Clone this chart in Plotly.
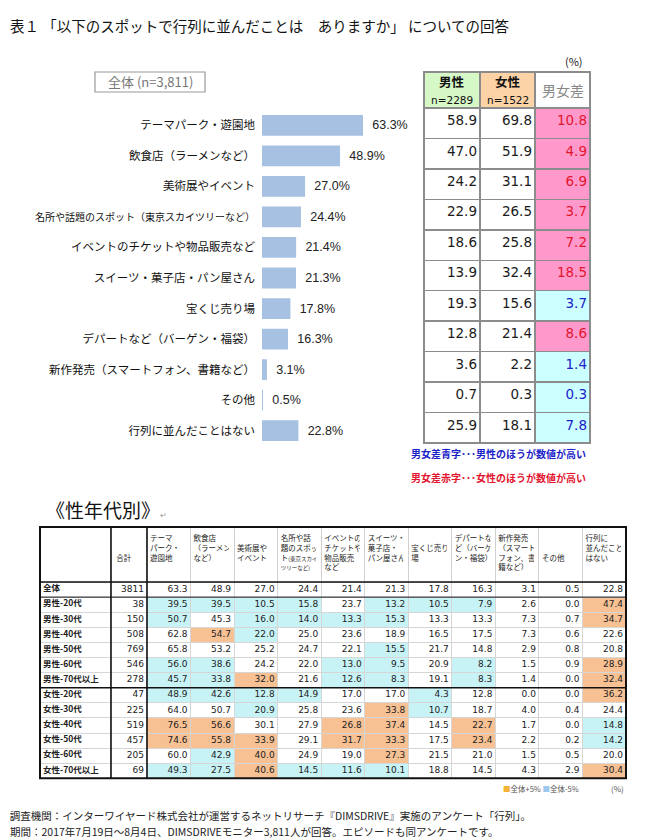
import plotly.graph_objects as go

W, H = 668, 840
def px(x):
    return x / W
def py(y):
    return 1 - y / H

JP = "Noto Sans CJK JP"
NUMF = "DejaVu Sans, Noto Sans CJK JP"
CLEAR = "rgba(0,0,0,0)"
NB = "\u00a0"

# ---------------- data: overall chart ----------------
categories = ["テーマパーク・遊園地", "飲食店（ラーメンなど）", "美術展やイベント",
              "名所や話題のスポット（東京スカイツリーなど）", "イベントのチケットや物品販売など",
              "スイーツ・菓子店・パン屋さん", "宝くじ売り場", "デパートなど（バーゲン・福袋）",
              "新作発売（スマートフォン、書籍など）", "その他", "行列に並んだことはない"]
total_pct = [63.3, 48.9, 27.0, 24.4, 21.4, 21.3, 17.8, 16.3, 3.1, 0.5, 22.8]
male_pct = [58.9, 47.0, 24.2, 22.9, 18.6, 13.9, 19.3, 12.8, 3.6, 0.7, 25.9]
female_pct = [69.8, 51.9, 31.1, 26.5, 25.8, 32.4, 15.6, 21.4, 2.2, 0.3, 18.1]
gender_gap = [10.8, 4.9, 6.9, 3.7, 7.2, 18.5, 3.7, 8.6, 1.4, 0.3, 7.8]
gender_headers = ["男性", "女性", "男女差"]
gender_n = ["n=2289", "n=1522", ""]

# ---------------- data: by gender/age table ----------------
age_groups = ["全体", "男性-20代", "男性-30代", "男性-40代", "男性-50代", "男性-60代", "男性-70代以上",
              "女性-20代", "女性-30代", "女性-40代", "女性-50代", "女性-60代", "女性-70代以上"]
age_n = [3811, 38, 150, 508, 769, 546, 278, 47, 225, 519, 457, 205, 69]
theme_park = [63.3, 39.5, 50.7, 62.8, 65.8, 56.0, 45.7, 48.9, 64.0, 76.5, 74.6, 60.0, 49.3]
restaurant = [48.9, 39.5, 45.3, 54.7, 53.2, 38.6, 33.8, 42.6, 50.7, 56.6, 55.8, 42.9, 27.5]
art_event = [27.0, 10.5, 16.0, 22.0, 25.2, 24.2, 32.0, 12.8, 20.9, 30.1, 33.9, 40.0, 40.6]
famous_spot = [24.4, 15.8, 14.0, 25.0, 24.7, 22.0, 21.6, 14.9, 25.8, 27.9, 29.1, 24.9, 14.5]
event_ticket = [21.4, 23.7, 13.3, 23.6, 22.1, 13.0, 12.6, 17.0, 23.6, 26.8, 31.7, 19.0, 11.6]
sweets = [21.3, 13.2, 15.3, 18.9, 15.5, 9.5, 8.3, 17.0, 33.8, 37.4, 33.3, 27.3, 10.1]
lottery = [17.8, 10.5, 13.3, 16.5, 21.7, 20.9, 19.1, 4.3, 10.7, 14.5, 17.5, 21.5, 18.8]
dept_store = [16.3, 7.9, 13.3, 17.5, 14.8, 8.2, 8.3, 12.8, 18.7, 22.7, 23.4, 21.0, 14.5]
new_release = [3.1, 2.6, 7.3, 7.3, 2.9, 1.5, 1.4, 0.0, 4.0, 1.7, 2.2, 1.5, 4.3]
other = [0.5, 0.0, 0.7, 0.6, 0.8, 0.9, 0.0, 0.0, 0.4, 0.0, 0.2, 0.5, 2.9]
never_queued = [22.8, 47.4, 34.7, 22.6, 20.8, 28.9, 32.4, 36.2, 24.4, 14.8, 14.2, 20.0, 30.4]
age_table_headers = [
    "", NB + "<br>" + NB + "<br>合計", "テーマ<br>パーク・<br>遊園地", "飲食店<br>（ラーメン<br>など）",
    NB + "<br>美術展や<br>イベント",
    "名所や話<br>題のスポッ<br>ト<span style='font-size:5.5px'>(東京スカイ</span><br><span style='font-size:5.5px'>ツリーなど)</span>",
    "イベントの<br>チケットや<br>物品販売<br>など", "スイーツ・<br>菓子店・<br>パン屋さん",
    NB + "<br>宝くじ売り<br>場", "デパートな<br>ど（バーゲ<br>ン・福袋）",
    "新作発売<br>（スマート<br>フォン、書<br>籍など）", NB + "<br>" + NB + "<br>その他",
    "行列に<br>並んだこと<br>はない"]

# ---------------- colours ----------------
BAR = "#a7c1e2"
GREEN = "#d6f7c6"
PEACH = "#fbd3a6"
PINK = "#ff99cc"
CYAN_GAP = "#ccffff"
RED_TXT = "#e3162f"
BLUE_TXT = "#1a22c8"
HI = "#f7c194"
LO = "#c8f3f6"

fig = go.Figure()

# ---------------- bar chart ----------------
ticktext = [("<span style='font-size:10px'>%s</span>" % c) if len(c) > 18 else c for c in categories]
fig.add_trace(go.Bar(
    x=total_pct, y=categories, orientation="h",
    marker=dict(color=BAR, line=dict(width=0)), width=0.68,
    text=["\u2002%.1f%%" % v for v in total_pct], textposition="outside",
    textfont=dict(family="Liberation Sans, Arial", size=12.5, color="#222"),
    cliponaxis=False, hoverinfo="skip", showlegend=False,
    xaxis="x", yaxis="y"))

# ---------------- gender table (background + shifted text layer) ----------------
gap_fill = [PINK if f > m else CYAN_GAP for m, f in zip(male_pct, female_pct)]
gap_color = [RED_TXT if f > m else BLUE_TXT for m, f in zip(male_pct, female_pct)]
GX0, GX1, GY0, GY1 = 424, 590, 72, 446
col_w = [56, 55, 55]
fig.add_trace(go.Table(
    domain=dict(x=[px(GX0), px(GX1)], y=[py(GY1), py(GY0)]),
    columnwidth=col_w,
    header=dict(values=["", "", ""], height=36,
                fill=dict(color=[GREEN, PEACH, "white"]),
                line=dict(color="#8c8c8c", width=1.5)),
    cells=dict(values=[[""] * 11] * 3, height=30.45,
               fill=dict(color=[["white"] * 11, ["white"] * 11, gap_fill]),
               line=dict(color="#8c8c8c", width=1.5))))
SH = 5
fig.add_trace(go.Table(
    domain=dict(x=[px(GX0 + SH), px(GX1 + SH)], y=[py(GY1 - 1), py(GY0 - 1)]),
    columnwidth=col_w,
    header=dict(values=["", "", ""], height=36, fill=dict(color=CLEAR),
                line=dict(color=CLEAR, width=0)),
    cells=dict(values=[["%.1f" % v for v in male_pct], ["%.1f" % v for v in female_pct],
                       ["%.1f" % v for v in gender_gap]],
               height=30.45, align="right", fill=dict(color=CLEAR),
               font=dict(family=NUMF, size=13.5,
                         color=[["#1a1a1a"] * 11, ["#1a1a1a"] * 11, gap_color]),
               line=dict(color=CLEAR, width=0))))

for i, (h, n) in enumerate(zip(gender_headers, gender_n)):
    cx = GX0 + sum(col_w[:i]) + col_w[i] / 2
    if n:
        fig.add_annotation(x=px(cx), y=py(82), text="<b>%s</b>" % h, showarrow=False,
                           xref="paper", yref="paper", xanchor="center", yanchor="middle",
                           font=dict(family=JP, size=12.5, color="#111"))
        fig.add_annotation(x=px(cx), y=py(100), text=n, showarrow=False,
                           xref="paper", yref="paper", xanchor="center", yanchor="middle",
                           font=dict(family=NUMF, size=10.5, color="#111"))
    else:
        fig.add_annotation(x=px(cx), y=py(90), text=h, showarrow=False,
                           xref="paper", yref="paper", xanchor="center", yanchor="middle",
                           font=dict(family=JP, size=14, color="#888"))

# ---------------- age table ----------------
age_cols = [theme_park, restaurant, art_event, famous_spot, event_ticket, sweets,
            lottery, dept_store, new_release, other, never_queued]

def cell_color(col, i):
    if i == 0:
        return "white"
    d = round(col[i] - col[0], 1)
    if d >= 5:
        return HI
    if d <= -5:
        return LO
    return "white"

num_values = [[str(n) for n in age_n]]
fills = [["white"] * 13, ["white"] * 13]
for col in age_cols:
    num_values.append(["%.1f" % v for v in col])
    fills.append([cell_color(col, i) for i in range(13)])

TX0, TX1, TY0, TY1 = 40, 626, 527, 782
HDR, RH = 55, 15.1
cw = [71, 36] + [43.55] * 11
NC = len(cw)
# background: fills and grid lines
fig.add_trace(go.Table(
    domain=dict(x=[px(TX0), px(TX1)], y=[py(TY1), py(TY0)]),
    columnwidth=cw,
    header=dict(values=[""] * NC, height=HDR, fill=dict(color="white"),
                line=dict(color="#cfcfcf", width=1)),
    cells=dict(values=[[""] * 13] * NC, height=RH,
               fill=dict(color=fills), line=dict(color="#d6d6d6", width=1))))
# header texts (shifted left/up to reduce padding)
fig.add_trace(go.Table(
    domain=dict(x=[px(TX0 - SH), px(TX1 - SH)], y=[py(TY1 + 20), py(TY0 - 3)]),
    columnwidth=cw,
    header=dict(values=age_table_headers, height=HDR,
                align=["left", "center"] + ["left"] * 11,
                font=dict(family=JP, size=7.5, color="#222"),
                fill=dict(color=CLEAR), line=dict(color=CLEAR, width=0)),
    cells=dict(values=[[""]] * NC, height=RH, fill=dict(color=CLEAR),
               line=dict(color=CLEAR, width=0))))
# row labels
fig.add_trace(go.Table(
    domain=dict(x=[px(TX0 - SH), px(TX0 + cw[0] - SH)], y=[py(TY1 - SH), py(TY0 - SH)]),
    columnwidth=[cw[0]],
    header=dict(values=[""], height=HDR, fill=dict(color=CLEAR), line=dict(color=CLEAR, width=0)),
    cells=dict(values=[age_groups], height=RH, align="left",
               font=dict(family=JP, size=8.5, color="#222", weight="bold"),
               fill=dict(color=CLEAR), line=dict(color=CLEAR, width=0))))
# numbers
fig.add_trace(go.Table(
    domain=dict(x=[px(TX0 + cw[0] + SH), px(TX1 + SH)], y=[py(TY1 - SH), py(TY0 - SH)]),
    columnwidth=cw[1:],
    header=dict(values=[""] * (NC - 1), height=HDR, fill=dict(color=CLEAR),
                line=dict(color=CLEAR, width=0)),
    cells=dict(values=num_values, height=RH, align="right",
               font=dict(family=NUMF, size=9, color="#222"),
               fill=dict(color=CLEAR), line=dict(color=CLEAR, width=0))))

# thick borders of age table
def hline(y, x_a, x_b, w=1.6):
    fig.add_shape(type="line", xref="paper", yref="paper", x0=px(x_a), x1=px(x_b),
                  y0=py(y), y1=py(y), line=dict(color="#111", width=w))
def vline(x, y_a, y_b, w=1.6):
    fig.add_shape(type="line", xref="paper", yref="paper", x0=px(x), x1=px(x),
                  y0=py(y_a), y1=py(y_b), line=dict(color="#111", width=w))

TB = TY0 + HDR + 13 * RH
fig.add_shape(type="rect", xref="paper", yref="paper", x0=px(TX0), x1=px(TX1), y0=py(TY0), y1=py(TB),
              line=dict(color="#111", width=2))
hline(TY0 + HDR, TX0, TX1, 1.6)
hline(TY0 + HDR + RH, TX0, TX1, 1.0)
hline(TY0 + HDR + 7 * RH, TX0, TX1, 1.6)
vline(TX0 + cw[0], TY0, TB)
vline(TX0 + cw[0] + cw[1], TY0, TB)

# ---------------- texts ----------------
def text(x, y, s, size, color="#111", anchor="left", family=JP):
    fig.add_annotation(x=px(x), y=py(y), text=s, showarrow=False, xref="paper", yref="paper",
                       xanchor=anchor, yanchor="middle", font=dict(family=family, size=size, color=color))

text(8, 25, "表１ 「以下のスポットで行列に並んだことは　ありますか」 についての回答", 14.5)
text(585, 61, "(%)", 11, "#222", "right")
fig.add_shape(type="rect", xref="paper", yref="paper", x0=px(95), x1=px(205), y0=py(72), y1=py(92),
              line=dict(color="#9a9a9a", width=1.2))
text(150, 82, "全体 (n=3,811)", 13, "#777", "center")
text(588, 453, "<b>男女差青字･･･男性のほうが数値が高い</b>", 10, BLUE_TXT, "right")
text(588, 477, "<b>男女差赤字･･･女性のほうが数値が高い</b>", 10, RED_TXT, "right")
text(44, 510, "《性年代別》<span style='font-size:8px;color:#999'>↵</span>", 19, "#111")
text(581, 788, "<span style='color:#f5b335'>■</span>全体+5% <span style='color:#9cc8ef'>■</span>全体-5%", 7.5, "#555", "right")
text(626, 788, "(%)", 8, "#555", "right")
text(8, 815, "調査機関：インターワイヤード株式会社が運営するネットリサーチ『DIMSDRIVE』実施のアンケート「行列」。", 10.5, "#222")
text(8, 831, "期間：2017年7月19日～8月4日、DIMSDRIVEモニター3,811人が回答。エピソードも同アンケートです。", 10.5, "#222")

# ---------------- layout ----------------
fig.update_layout(
    width=W, height=H, margin=dict(l=0, r=0, t=0, b=0),
    paper_bgcolor="white", plot_bgcolor="white", showlegend=False,
    xaxis=dict(domain=[px(262), px(262 + 100 * 1.596)], range=[0, 100], visible=False, fixedrange=True),
    yaxis=dict(domain=[py(446), py(110)], autorange="reversed", type="category",
               tickvals=categories, ticktext=ticktext, showgrid=False, zeroline=False, showline=False,
               ticks="", ticklabelstandoff=6,
               tickfont=dict(family=JP, size=11.5, color="#111"), fixedrange=True),
    font=dict(family=JP),
)

fig.write_html("out.html", config={"displayModeBar": False},
               post_script="document.body.style.margin='0';")
